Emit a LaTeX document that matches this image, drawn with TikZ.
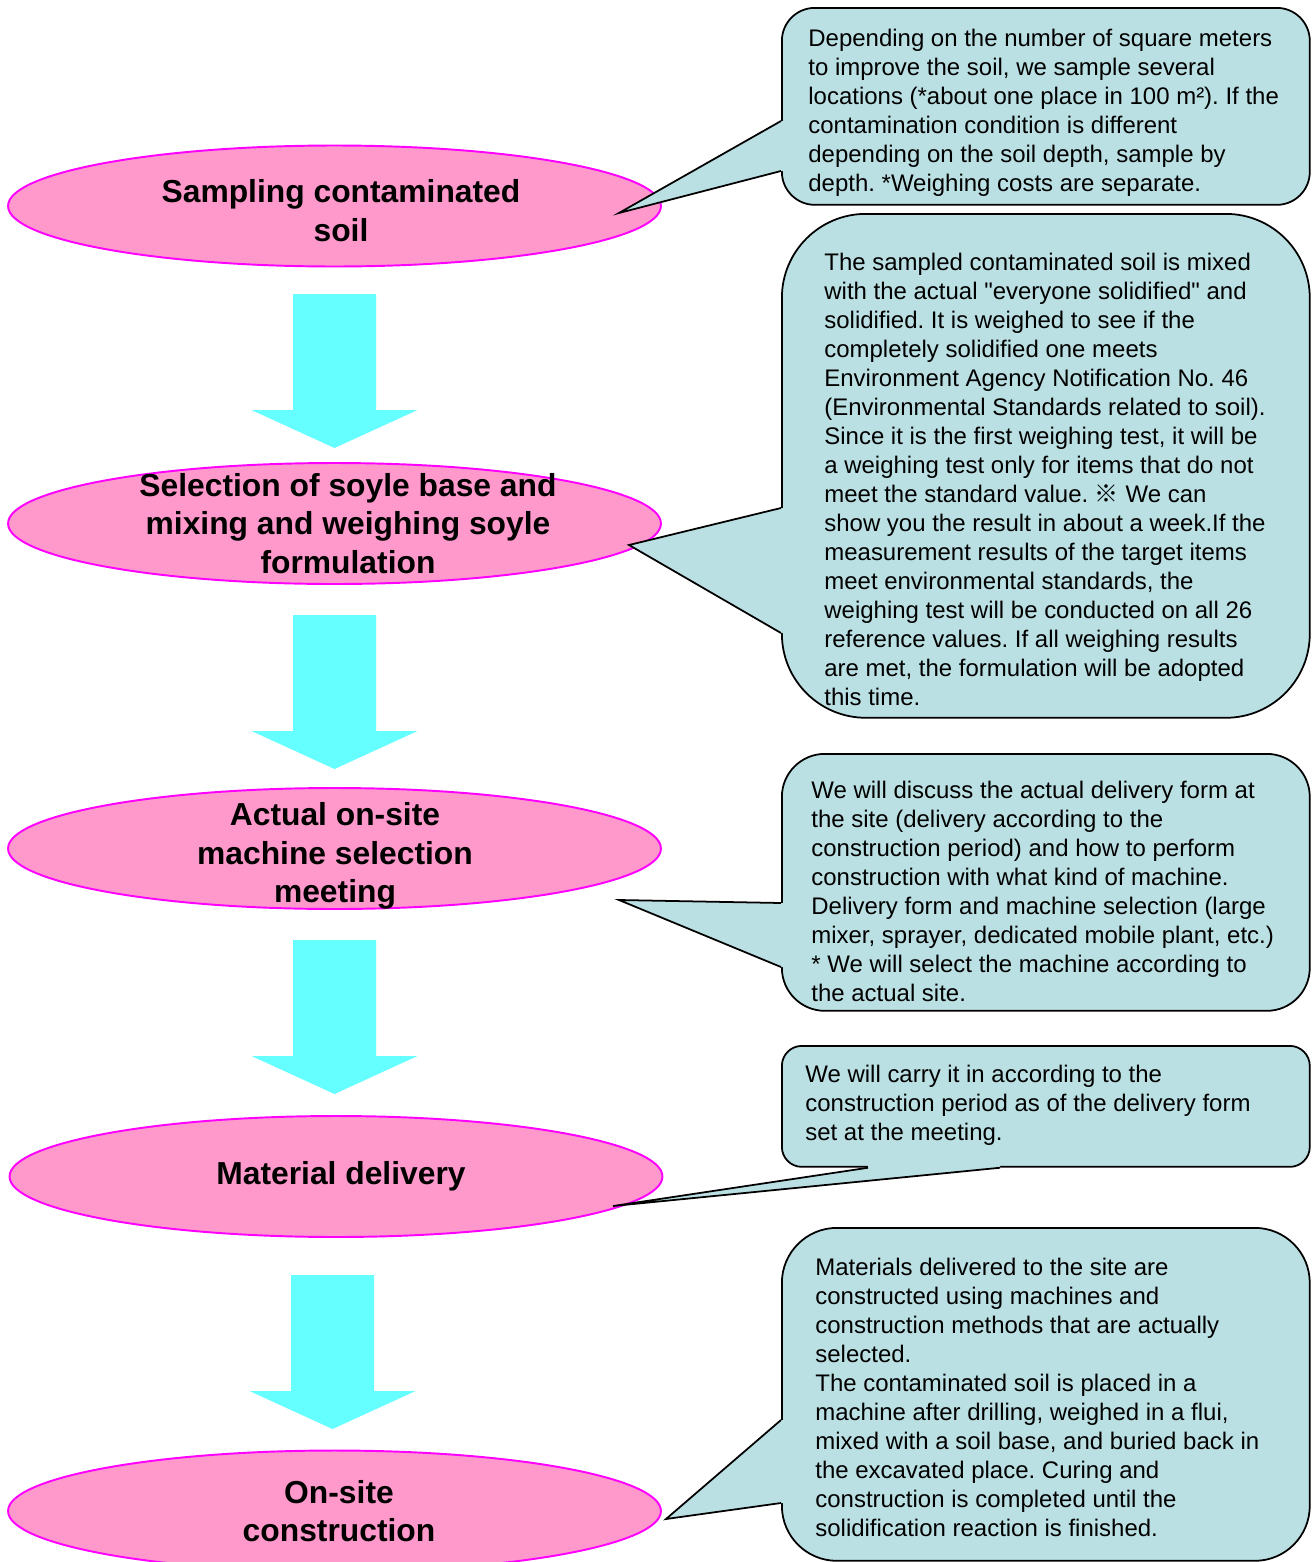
\documentclass[tikz,border=0pt]{standalone}
\usepackage{fontspec}
\setmainfont{Liberation Sans}
\newfontfamily\markfont{Noto Sans CJK JP}
\usetikzlibrary{shapes.geometric,calc}
\definecolor{stagefill}{HTML}{FF99CC}
\definecolor{stageline}{HTML}{FF00FF}
\definecolor{notefill}{HTML}{BBE0E3}
\definecolor{flowcyan}{HTML}{66FFFF}
\frenchspacing

\begin{document}
\begin{tikzpicture}[x=0.02cm,y=-0.02cm]
    %
    % `stage' is the pink ellipse of each step, `stagetext' its label.
    % `notebox' and `notetext' make the blue callouts on the right.
    \tikzstyle{stage} = [draw=stageline,fill=stagefill,line width=1.1pt,shape=ellipse,minimum width=13.06cm,minimum height=2.42cm,inner sep=0pt]
    \tikzstyle{stagetext} = [font=\bfseries\fontsize{18.1}{22}\selectfont,align=center,inner sep=0pt]
    \tikzstyle{notebox} = [draw,fill=notefill,line width=1pt,minimum width=10.56cm,anchor=north west,inner sep=0pt]
    \tikzstyle{notetext} = [font=\fontsize{13.65}{16.5}\selectfont,align=left,anchor=west,inner sep=0pt]
    \tikzstyle{pointer} = [draw,line width=1pt,line join=miter]
    %
    \useasboundingbox[fill=white] (0,0) rectangle (1312,1562);
    %
    % Flow arrows
    \foreach \x/\y in {334.5/294, 334.5/615, 334.5/940, 332.5/1275}
        \fill[flowcyan] (\x-41.5,\y) -- (\x+41.5,\y) -- (\x+41.5,\y+116) -- (\x+83,\y+116)
            -- (\x,\y+154) -- (\x-83,\y+116) -- (\x-41.5,\y+116) -- cycle;
    %
    % Steps
    \node[stage] (s1) at (334.5,206) {};
    \node[stage] (s2) at (334.5,523.5) {};
    \node[stage] (s3) at (334.5,848.5) {};
    \node[stage] (s4) at (336,1176.5) {};
    \node[stage] (s5) at (334.5,1511) {};
    \node[stagetext] (l1) at (341,210.5) {Sampling contaminated\\soil};
    \node[stagetext] (l2) at (348,523.5) {Selection of soyle base and\\mixing and weighing soyle\\formulation};
    \node[stagetext] (l3) at (335,856) {Actual on-site\\machine selection\\meeting};
    \node[stagetext] (l4) at (341,1176) {Material delivery};
    \node[stagetext] (l5) at (339,1511) {On-site\\construction};
    %
    % Callout 1
    \node[notebox,minimum height=3.94cm,rounded corners=0.66cm] (c1) at (781,7) {};
    \coordinate (t1) at (619,213);
    \fill[notefill] ($(c1.north west)+(0,114)$) -- (t1) -- ($(c1.north west)+(0,164)$) -- ($(c1.north west)+(4,164)$) -- ($(c1.north west)+(4,114)$) -- cycle;
    \draw[pointer] ($(c1.north west)+(0,114)$) -- (t1) -- ($(c1.north west)+(0,164)$);
    \node[notetext] (n1) at (808,112.5) {Depending on the number of square meters\\to improve the soil, we sample several\\locations (*about one place in 100 m²). If the\\contamination condition is different\\depending on the soil depth, sample by\\depth. *Weighing costs are separate.};
    %
    % Callout 2
    \node[notebox,minimum height=10.08cm,rounded corners=1.68cm] (c2) at (781,213) {};
    \coordinate (t2) at (629,545);
    \fill[notefill] ($(c2.north west)+(0,295)$) -- (t2) -- ($(c2.north west)+(0,420)$) -- ($(c2.north west)+(4,420)$) -- ($(c2.north west)+(4,295)$) -- cycle;
    \draw[pointer] ($(c2.north west)+(0,295)$) -- (t2) -- ($(c2.north west)+(0,420)$);
    \node[notetext] (n2) at (824,479) {The sampled contaminated soil is mixed\\with the actual \textquotedbl everyone solidified\textquotedbl{} and\\solidified. It is weighed to see if the\\completely solidified one meets\\Environment Agency Notification No. 46\\(Environmental Standards related to soil).\\Since it is the first weighing test, it will be\\a weighing test only for items that do not\\meet the standard value. {\markfont ※} We can\\show you the result in about a week.If the\\measurement results of the target items\\meet environmental standards, the\\weighing test will be conducted on all 26\\reference values. If all weighing results\\are met, the formulation will be adopted\\this time.};
    %
    % Callout 3
    \node[notebox,minimum height=5.14cm,rounded corners=0.86cm] (c3) at (781,753) {};
    \coordinate (t3) at (619,900);
    \fill[notefill] ($(c3.north west)+(0,150)$) -- (t3) -- ($(c3.north west)+(0,214)$) -- ($(c3.north west)+(4,214)$) -- ($(c3.north west)+(4,150)$) -- cycle;
    \draw[pointer] ($(c3.north west)+(0,150)$) -- (t3) -- ($(c3.north west)+(0,214)$);
    \node[notetext] (n3) at (811,891) {We will discuss the actual delivery form at\\the site (delivery according to the\\construction period) and how to perform\\construction with what kind of machine.\\Delivery form and machine selection (large\\mixer, sprayer, dedicated mobile plant, etc.)\\* We will select the machine according to\\the actual site.};
    %
    % Callout 4
    \node[notebox,minimum height=2.42cm,rounded corners=0.4cm] (c4) at (781,1045) {};
    \coordinate (t4) at (613,1206);
    \fill[notefill] ($(c4.south west)+(87,0)$) -- (t4) -- ($(c4.south west)+(219,0)$) -- ($(c4.south west)+(219,-4)$) -- ($(c4.south west)+(87,-4)$) -- cycle;
    \draw[pointer] ($(c4.south west)+(87,0)$) -- (t4) -- ($(c4.south west)+(219,0)$);
    \node[notetext] (n4) at (805,1105) {We will carry it in according to the\\construction period as of the delivery form\\set at the meeting.};
    %
    % Callout 5
    \node[notebox,minimum height=6.66cm,rounded corners=1.1cm] (c5) at (781,1227) {};
    \coordinate (t5) at (666,1519);
    \fill[notefill] ($(c5.north west)+(0,193)$) -- (t5) -- ($(c5.north west)+(0,276)$) -- ($(c5.north west)+(4,276)$) -- ($(c5.north west)+(4,193)$) -- cycle;
    \draw[pointer] ($(c5.north west)+(0,193)$) -- (t5) -- ($(c5.north west)+(0,276)$);
    \node[notetext] (n5) at (815,1397.5) {Materials delivered to the site are\\constructed using machines and\\construction methods that are actually\\selected.\\The contaminated soil is placed in a\\machine after drilling, weighed in a flui,\\mixed with a soil base, and buried back in\\the excavated place. Curing and\\construction is completed until the\\solidification reaction is finished.};
    %
\end{tikzpicture}
\end{document}
